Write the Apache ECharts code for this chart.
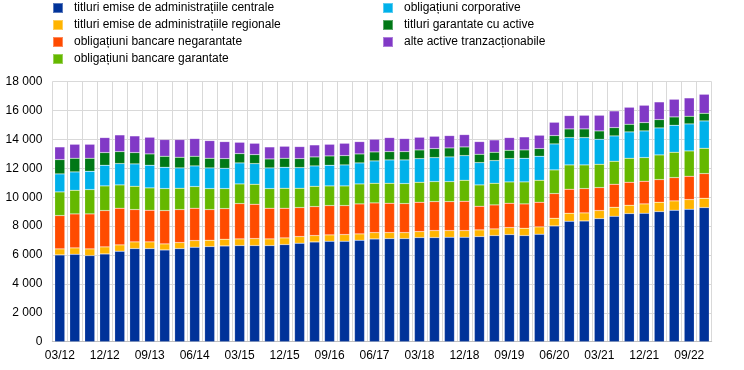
<!DOCTYPE html>
<html>
<head>
<meta charset="utf-8">
<script src="https://cdn.jsdelivr.net/npm/echarts@6/dist/echarts.min.js"></script>
<style>
html,body{margin:0;padding:0;background:#fff;}
#c{width:744px;height:370px;}
</style>
</head>
<body>
<div id="c"></div>
<script>
// Quarterly categories 03/12 .. 12/22
const categories = [
  "03/12","06/12","09/12","12/12","03/13","06/13","09/13","12/13","03/14","06/14","09/14","12/14",
  "03/15","06/15","09/15","12/15","03/16","06/16","09/16","12/16","03/17","06/17","09/17","12/17",
  "03/18","06/18","09/18","12/18","03/19","06/19","09/19","12/19","03/20","06/20","09/20","12/20",
  "03/21","06/21","09/21","12/21","03/22","06/22","09/22","12/22"
];
const seriesNames = [
  "titluri emise de administrațiile centrale",
  "titluri emise de administrațiile regionale",
  "obligațiuni bancare negarantate",
  "obligațiuni bancare garantate",
  "obligațiuni corporative",
  "titluri garantate cu active",
  "alte active tranzacționabile"
];
const centralGov = [6010,6056,5964,6080,6264,6449,6449,6356,6449,6541,6587,6633,
  6656,6656,6656,6725,6818,6910,6956,6956,7025,7118,7141,7141,
  7210,7210,7233,7233,7279,7348,7418,7348,7441,8017,8340,8363,
  8525,8686,8871,8894,9009,9102,9171,9286];
const regionalGov = [415,438,461,484,438,461,461,415,415,461,438,461,
  461,484,461,461,461,438,438,461,438,438,415,415,
  415,484,461,461,461,461,484,508,508,531,554,554,
  554,623,577,646,646,646,669,646];
const unsecuredBank = [2307,2353,2422,2515,2538,2238,2192,2307,2284,2238,2122,2122,
  2445,2376,2122,2053,2007,2007,2030,2007,2076,2053,2030,2007,
  2030,2007,2007,2030,1638,1661,1684,1684,1707,1707,1661,1684,
  1592,1592,1592,1569,1569,1615,1615,1707];
const coveredBank = [1638,1638,1684,1707,1615,1615,1546,1523,1476,1500,1453,1384,
  1361,1384,1361,1384,1338,1407,1361,1361,1384,1361,1384,1384,
  1384,1384,1384,1453,1476,1500,1476,1523,1523,1638,1684,1638,
  1615,1592,1661,1638,1707,1753,1753,1753];
const corporate = [1246,1269,1269,1430,1476,1546,1569,1476,1407,1430,1430,1407,
  1453,1430,1430,1453,1430,1407,1430,1453,1453,1546,1615,1638,
  1638,1661,1707,1707,1546,1569,1615,1638,1661,1799,1892,1892,
  1730,1753,1823,1846,1869,1869,1869,1892];
const assetBacked = [992,946,900,877,831,784,784,761,738,669,669,669,
  646,623,623,623,623,623,646,646,623,623,577,577,
  600,623,623,600,577,577,577,577,531,577,600,600,
  577,577,531,577,577,577,531,531];
const otherMarketable = [877,969,969,1038,1154,1154,1154,1154,1223,1223,1223,1177,
  784,784,831,831,831,831,807,854,854,877,969,900,
  877,854,854,854,877,854,877,900,923,923,923,946,
  1084,1154,1177,1200,1223,1223,1269,1315];
const yTicks = [0,2000,4000,6000,8000,10000,12000,14000,16000,18000];

const colors = ["#003299","#FFB400","#FF4B00","#65B800","#00B1EA","#007816","#8139C6"];
const dataArrays = [centralGov, regionalGov, unsecuredBank, coveredBank, corporate, assetBacked, otherMarketable];

const chart = echarts.init(document.getElementById('c'), null, {renderer:'canvas'});
const fontFamily = '"Liberation Sans", Arial, sans-serif';

const series = seriesNames.map((n,i)=>({
  name: n,
  type: 'bar',
  stack: 'total',
  data: dataArrays[i],
  barCategoryGap: '33%',
  itemStyle: {color: colors[i], borderColor: 'rgba(255,255,255,0.35)', borderWidth: 0.5},
  emphasis: {disabled: true},
  animation: false
}));

const legendCommon = {
  orient: 'vertical',
  itemWidth: 10,
  itemHeight: 10,
  itemGap: 5,
  icon: 'rect',
  padding: [2,5,5,5],
  textStyle: {fontFamily, fontSize: 12, color: '#000', padding: [0,0,0,6]},
  selectedMode: false
};

chart.setOption({
  animation: false,
  color: colors,
  grid: {left: 52.3, right: 32.3, top: 81.7, bottom: 28.3, containLabel: false},
  legend: [
    Object.assign({}, legendCommon, {left: 47, top: 0, data: seriesNames.slice(0,4)}),
    Object.assign({}, legendCommon, {left: 377, top: 0, data: seriesNames.slice(4)})
  ],
  xAxis: {
    type: 'category',
    data: categories,
    boundaryGap: true,
    axisLine: {show: true, lineStyle: {color: '#bfbfbf', width: 1}},
    axisTick: {show: false},
    axisLabel: {interval: 2, fontFamily, fontSize: 12, color: '#000', margin: 8},
    splitLine: {show: true, interval: 0, lineStyle: {color: '#d9d9d9', width: 1}}
  },
  yAxis: {
    type: 'value',
    min: 0,
    max: 18000,
    interval: 2000,
    axisLine: {show: false},
    axisTick: {show: false},
    axisLabel: {
      fontFamily, fontSize: 12, color: '#000', margin: 10,
      formatter: v => yTicks.includes(v) ? String(v).replace(/\B(?=(\d{3})+(?!\d))/g, ' ') : ''
    },
    splitLine: {show: true, lineStyle: {color: '#d9d9d9', width: 1}}
  },
  series
});
</script>
</body>
</html>
